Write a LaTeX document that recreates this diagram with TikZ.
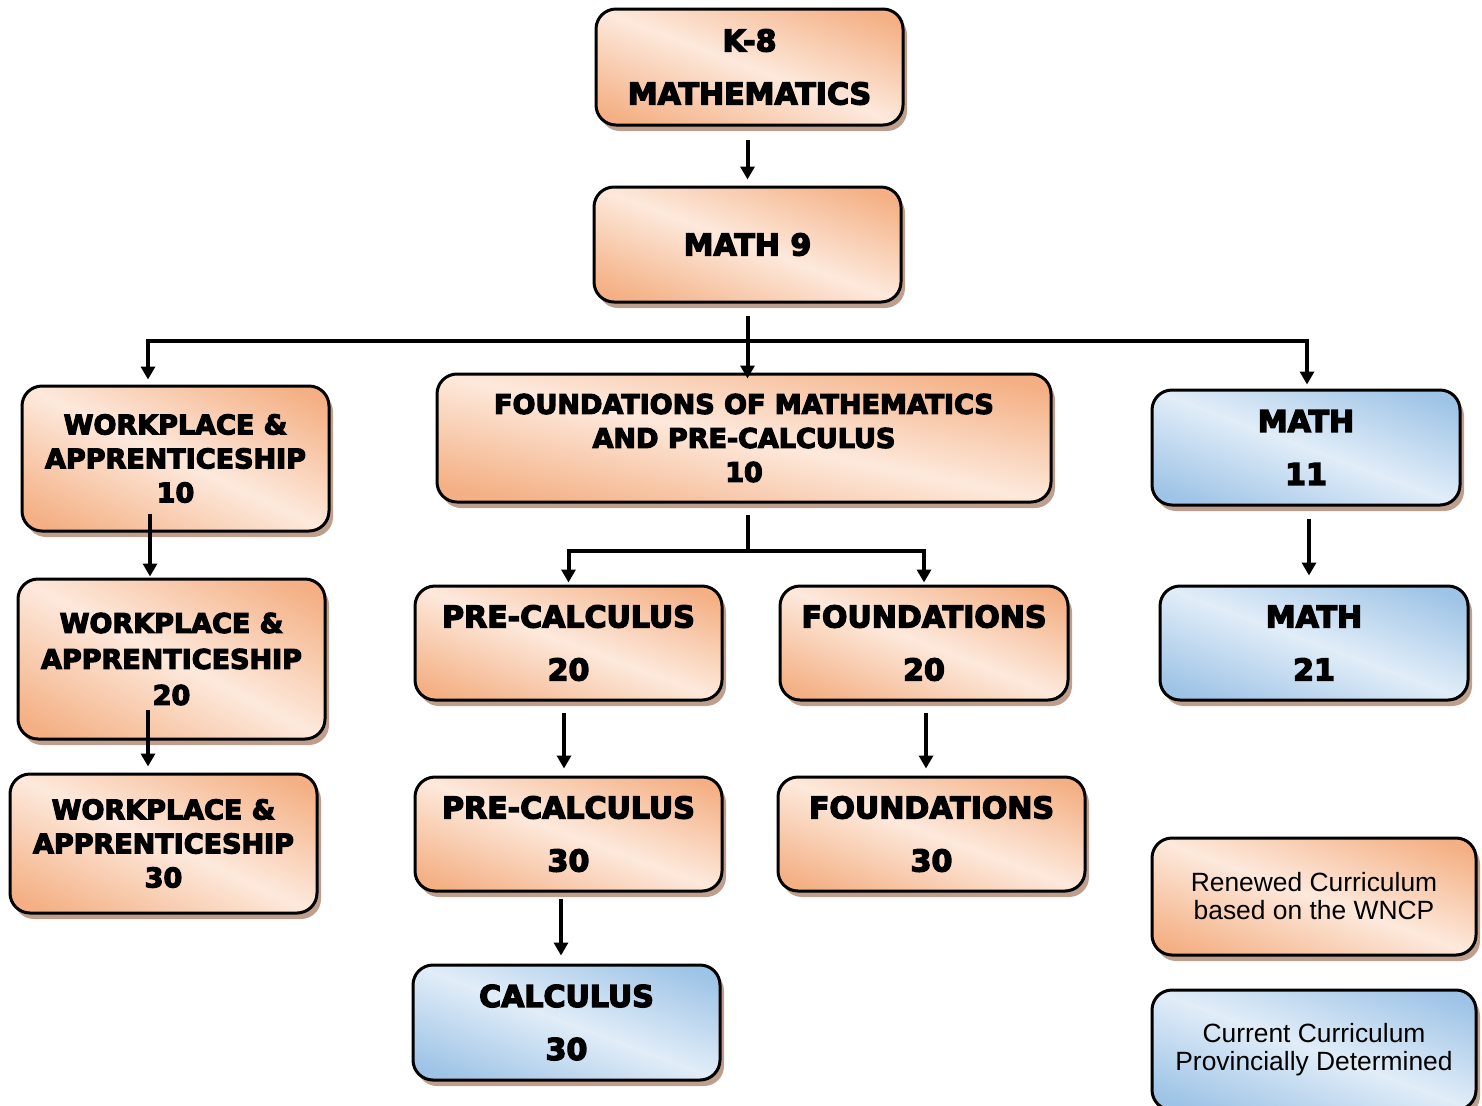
\documentclass[tikz,border=0pt]{standalone}
\usepackage{fontspec}
\setmainfont{Liberation Sans}
\newfontfamily\heavy{DejaVu Sans}[BoldFeatures={FakeBold=4.5}]
\usetikzlibrary{shadows,arrows.meta}
\definecolor{shadowc}{HTML}{BE9E8C}
\pgfdeclarefunctionalshading{oshade}{\pgfpoint{0bp}{0bp}}{\pgfpoint{100bp}{100bp}}{}{
  add 100 sub 50 div abs 1.15 mul dup 1 gt {pop 1} if
  dup dup
  -0.035 mul 0.992 add
  3 1 roll
  -0.224 mul 0.914 add
  exch
  -0.345 mul 0.863 add
}
\pgfdeclarefunctionalshading{bshade}{\pgfpoint{0bp}{0bp}}{\pgfpoint{100bp}{100bp}}{}{
  add 100 sub 50 div abs 1.15 mul dup 1 gt {pop 1} if
  dup dup
  -0.266 mul 0.882 add
  3 1 roll
  -0.164 mul 0.929 add
  exch
  -0.071 mul 0.973 add
}
\tikzset{
  box/.style={draw=black, line width=1.5pt, rounded corners=10pt, align=center, inner sep=0pt,
    drop shadow={shadow xshift=2pt, shadow yshift=-3pt, fill=shadowc, opacity=1}},
  obox/.style={box, shading=oshade},
  bbox/.style={box, shading=bshade},
  big/.style={font=\heavy\bfseries\fontsize{15}{26.5}\selectfont},
  tri/.style={font=\heavy\bfseries\fontsize{13.5}{17}\selectfont},
  plain/.style={font=\fontsize{13.2}{14}\selectfont},
  arr/.style={line width=2pt, line join=miter, -{Triangle[length=6.5pt,width=7pt]}}
}
\begin{document}
\begin{tikzpicture}[x=0.5pt,y=-0.5pt]
\useasboundingbox (0,0) rectangle (1482,1105);
\node[obox, big, minimum width=153.5pt, minimum height=58pt] (k8) at (749.5,67) {K-8\\MATHEMATICS};
\node[obox, big, minimum width=153.5pt, minimum height=57.5pt] (m9) at (747.5,244.5) {MATH 9};
\node[obox, tri, minimum width=153.5pt, minimum height=72.5pt] (wa10) at (175.5,458.5) {WORKPLACE \&\\APPRENTICESHIP\\10};
\node[obox, tri, minimum width=307pt, minimum height=64pt] (f10) at (744,438) {FOUNDATIONS OF MATHEMATICS\\AND PRE-CALCULUS\\10};
\node[bbox, big, minimum width=154pt, minimum height=57.5pt] (m11) at (1306,447.5) {MATH\\11};
\node[obox, tri, minimum width=153.5pt, minimum height=80pt, font=\heavy\bfseries\fontsize{13.5}{18}\selectfont] (wa20) at (171.5,659) {WORKPLACE \&\\APPRENTICESHIP\\20};
\node[obox, big, minimum width=153.5pt, minimum height=57pt] (pc20) at (568.5,643) {PRE-CALCULUS\\20};
\node[obox, big, minimum width=144pt, minimum height=57pt] (fd20) at (924,643) {FOUNDATIONS\\20};
\node[bbox, big, minimum width=154pt, minimum height=57pt] (m21) at (1314,643) {MATH\\21};
\node[obox, tri, minimum width=153.5pt, minimum height=69.5pt] (wa30) at (163.5,843.5) {WORKPLACE \&\\APPRENTICESHIP\\30};
\node[obox, big, minimum width=153.5pt, minimum height=57pt] (pc30) at (568.5,834) {PRE-CALCULUS\\30};
\node[obox, big, minimum width=153.5pt, minimum height=57pt] (fd30) at (931.5,834) {FOUNDATIONS\\30};
\node[bbox, big, minimum width=153.5pt, minimum height=57.5pt] (c30) at (566.5,1022.5) {CALCULUS\\30};
\node[obox, plain, minimum width=162pt, minimum height=58.5pt] (ren) at (1314,896.5) {Renewed Curriculum\\based on the WNCP};
\node[bbox, plain, minimum width=162pt, minimum height=60pt] (cur) at (1314,1050) {Current Curriculum\\Provincially Determined};
% connectors
\draw[arr] ([yshift=-6.5pt]k8.south -| m9.north) -- ([yshift=3pt]m9.north);
\draw[arr] ([yshift=-6pt]m9.south) -- ([yshift=-3pt]m9.south |- f10.north);
\coordinate (br) at (747,341);
\draw[arr] (br) -| ([xshift=-13.75pt,yshift=2.5pt]wa10.north);
\draw[arr] (br) -| ([xshift=0.5pt,yshift=2pt]m11.north);
\draw[arr] ([xshift=-12.75pt,yshift=9.5pt]wa10.south) -- ([xshift=-10.75pt,yshift=0.5pt]wa20.north);
\draw[arr] ([xshift=-11.75pt,yshift=15.5pt]wa20.south) -- ([xshift=-7.75pt,yshift=3pt]wa30.north);
\coordinate (fb) at (748,551);
\draw[arr] ([xshift=2pt,yshift=-5.5pt]f10.south) -- (fb) -| ([yshift=1pt]pc20.north);
\draw[arr] (fb) -| ([yshift=1pt]fd20.north);
\draw[arr] ([xshift=-2.25pt,yshift=-5.5pt]pc20.south) -- ([xshift=-2.25pt,yshift=3.5pt]pc30.north);
\draw[arr] ([xshift=1pt,yshift=-5.5pt]fd20.south) -- ([xshift=-2.75pt,yshift=3.5pt]fd30.north);
\draw[arr] ([xshift=-3.75pt,yshift=-3pt]pc30.south) -- ([xshift=-2.75pt,yshift=4pt]c30.north);
\draw[arr] ([xshift=1.5pt,yshift=-6pt]m11.south) -- ([xshift=-2.5pt,yshift=4.5pt]m21.north);
\end{tikzpicture}
\end{document}
